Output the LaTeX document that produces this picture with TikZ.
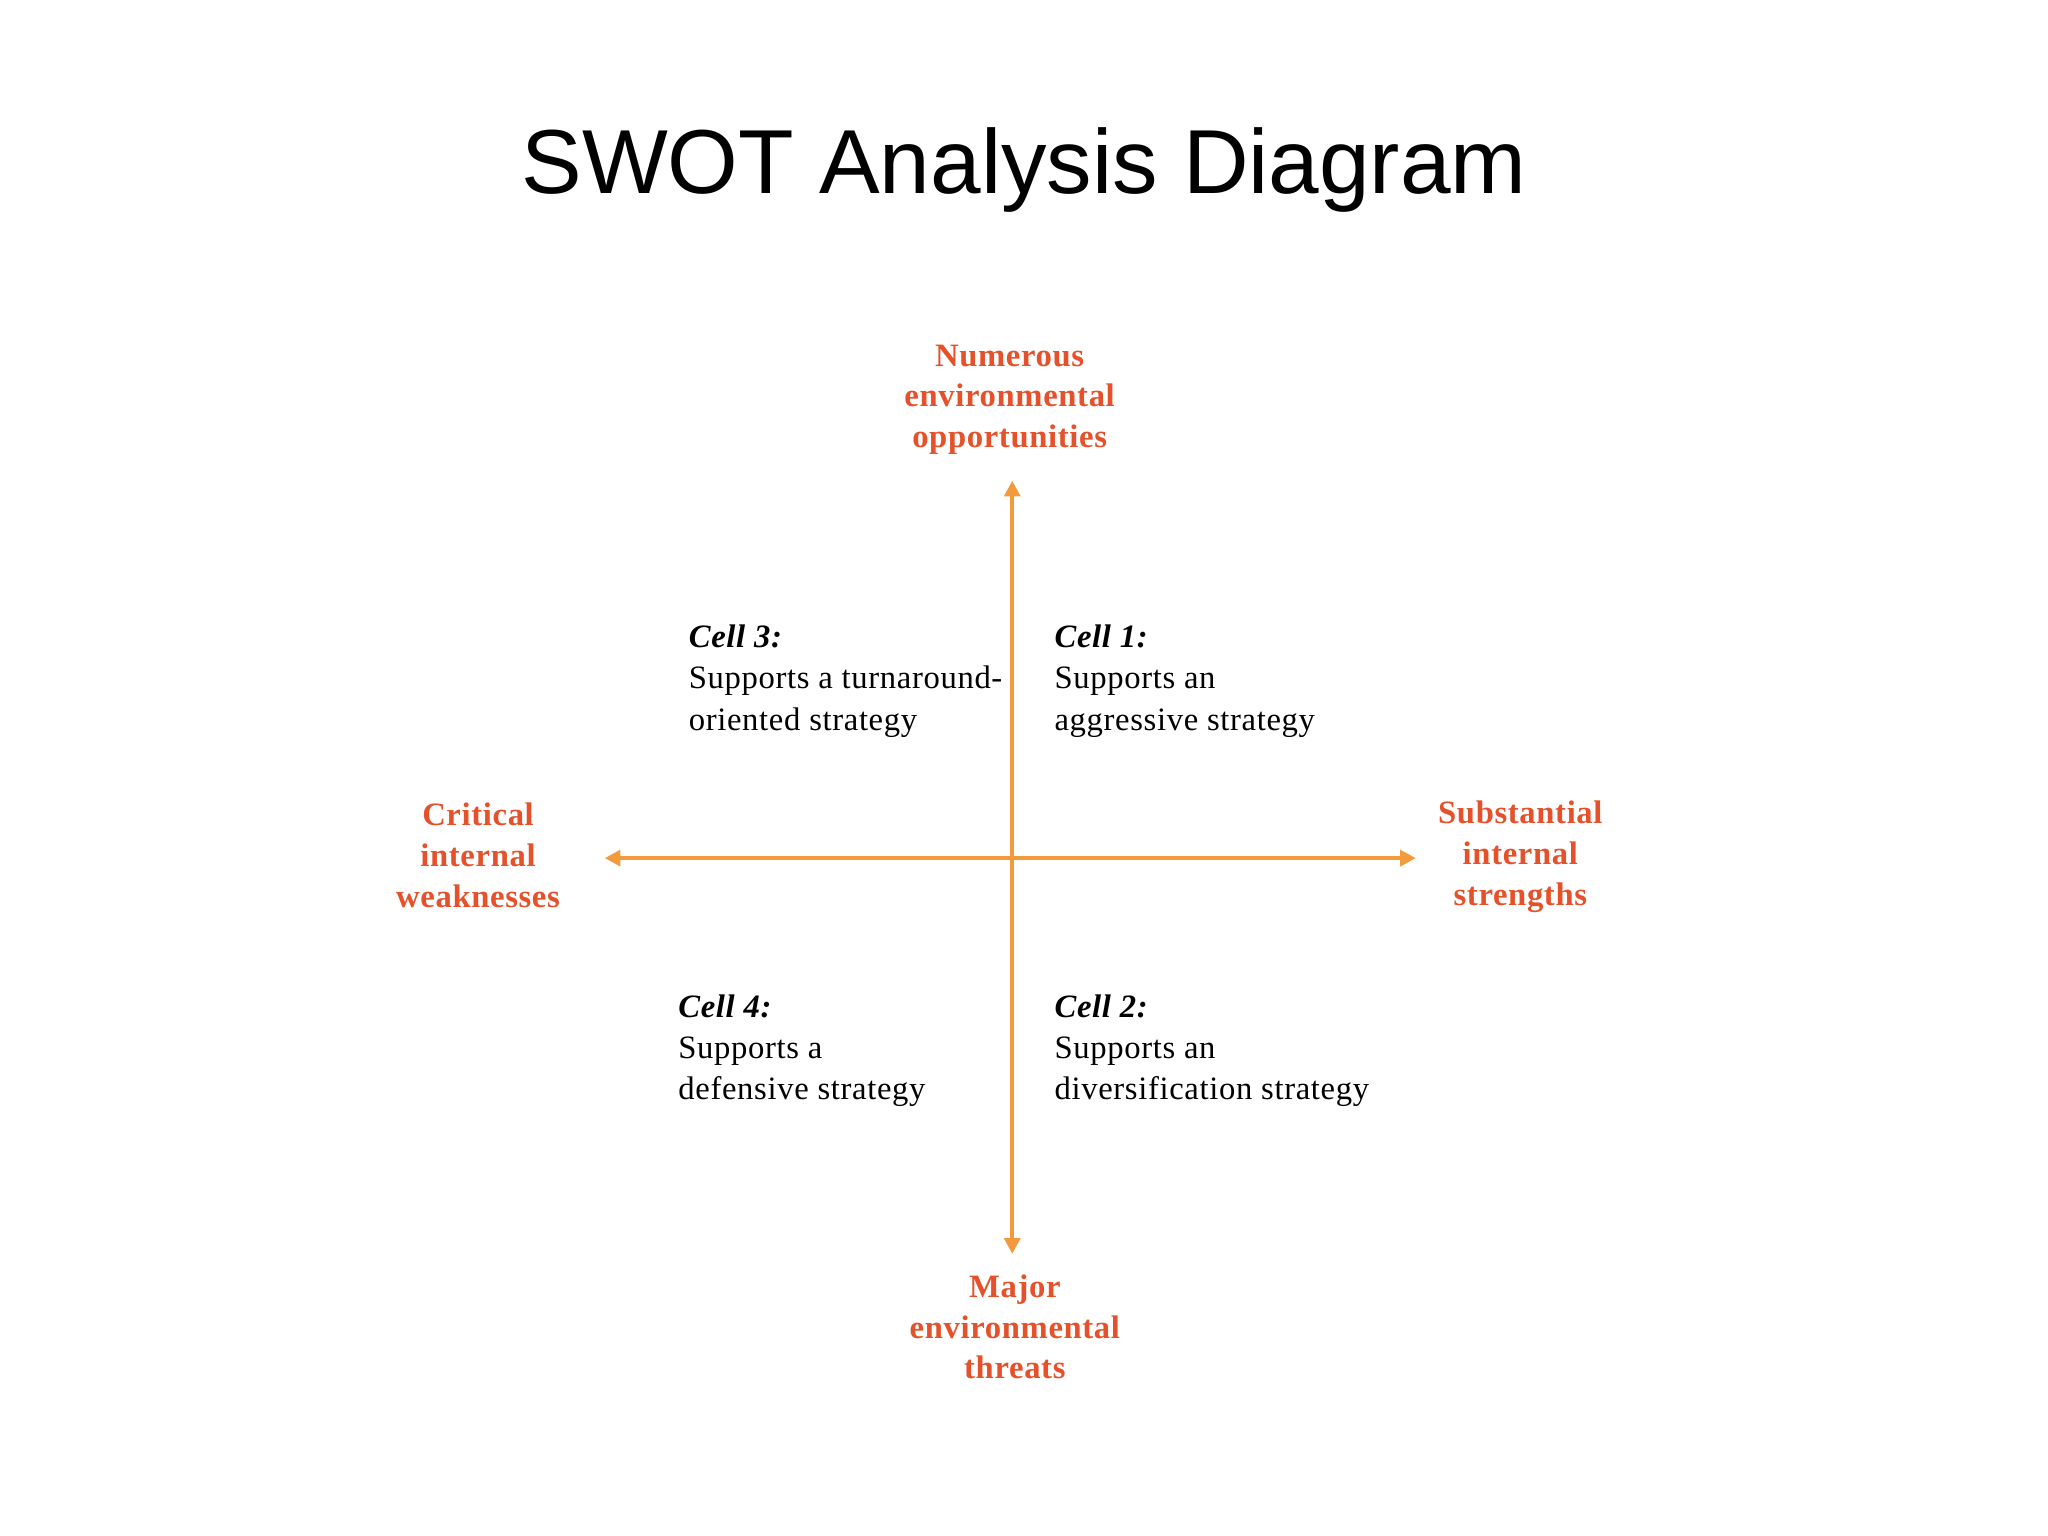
\documentclass[tikz,border=0pt]{standalone}
\usepackage{fontspec}
\setmainfont{Liberation Serif}[LetterSpace=2]
\newfontfamily\titlefont{Liberation Sans}
\usetikzlibrary{arrows.meta}
\definecolor{axis}{HTML}{F39A3C}
\definecolor{lab}{HTML}{E5512A}
\tikzset{x=0.5pt,y=-0.5pt,
 axisline/.style={axis,line width=1.6pt,-{Triangle[length=6pt,width=6pt]}},
 labtxt/.style={text=lab,font=\fontsize{12.5}{15.6}\selectfont\bfseries,align=center},
 celltxt/.style={font=\fontsize{12.5}{15.8}\selectfont,align=left,anchor=north west,inner sep=0pt}}
\begin{document}
\begin{tikzpicture}
\useasboundingbox (0,0) rectangle (1568,1176);
\node[font=\titlefont\fontsize{34.8}{38}\selectfont] (title) at (784,130) {SWOT Analysis Diagram};
\coordinate (c) at (775,657);
\coordinate (top) at (775,368);
\coordinate (bot) at (775,960);
\coordinate (lft) at (463,657);
\coordinate (rgt) at (1084,657);
\draw[axisline] (c) -- (top);
\draw[axisline] (c) -- (bot);
\draw[axisline] (c) -- (lft);
\draw[axisline] (c) -- (rgt);
\node[labtxt] (o) at (773,306) {Numerous\\environmental\\opportunities};
\node[labtxt] (t) at (777,1016) {Major\\environmental\\threats};
\node[labtxt] (w) at (366,655) {Critical\\internal\\weaknesses};
\node[labtxt] (s) at (1164,656) {Substantial\\internal\\strengths};
\node[celltxt] (c3) at (527,478) {\textbf{\textit{Cell 3:}}\\Supports a turnaround-\\oriented strategy};
\node[celltxt] (c1) at (807,478) {\textbf{\textit{Cell 1:}}\\Supports an\\aggressive strategy};
\node[celltxt] (c4) at (519,761) {\textbf{\textit{Cell 4:}}\\Supports a\\defensive strategy};
\node[celltxt] (c2) at (807,761) {\textbf{\textit{Cell 2:}}\\Supports an\\diversification strategy};
\end{tikzpicture}
\end{document}
